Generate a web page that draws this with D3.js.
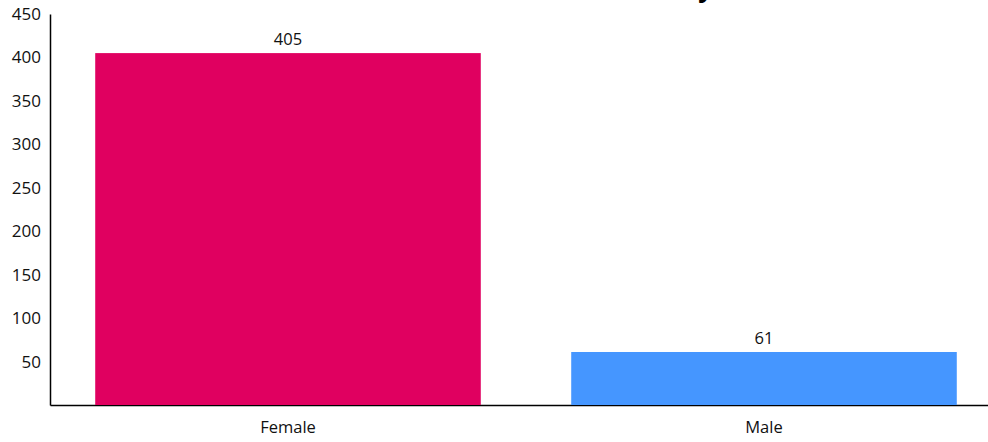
<!DOCTYPE html>
<html>
<head>
<meta charset="utf-8">
<script src="https://cdn.jsdelivr.net/npm/d3@7"></script>
<style>
  html, body { margin: 0; padding: 0; background: #fff; }
  svg { display: block; font-family: "Open Sans", "Noto Sans", sans-serif; }
</style>
</head>
<body>
<svg id="chart" width="988" height="442"></svg>
<script>
const categories = ["Female", "Male"];
const values = [405, 61];
const colors = ["#E00060", "#4596FF"];
const yTicks = [50, 100, 150, 200, 250, 300, 350, 400, 450];
const titleText = "Gender Distribution by";

const svg = d3.select("#chart");

const x = d3.scaleBand().domain(categories).range([50, 1002]).paddingInner(0.19).paddingOuter(0.095);
const y = d3.scaleLinear().domain([0, 450]).range([405, 14]);

// title (mostly clipped above the view, as in the reference)
svg.append("text")
  .attr("x", 713).attr("y", -3)
  .attr("text-anchor", "end")
  .attr("font-weight", "bold")
  .attr("font-size", 26)
  .text(titleText);

// y axis
const yAxis = svg.append("g").attr("transform", "translate(50,0)")
  .call(d3.axisLeft(y).tickValues(yTicks).tickSize(0).tickPadding(9));
yAxis.select(".domain").attr("stroke", "#000").attr("stroke-width", 1.5);
yAxis.selectAll("text").attr("font-size", 17).attr("fill", "#111")
  .attr("font-family", "'Open Sans', sans-serif");

// x axis
const xAxis = svg.append("g").attr("transform", "translate(0,405)")
  .call(d3.axisBottom(x).tickSize(0).tickPadding(16));
xAxis.select(".domain").attr("stroke", "#000").attr("stroke-width", 1.5);
xAxis.selectAll("text").attr("font-size", 16.5).attr("fill", "#111")
  .attr("font-family", "'Open Sans', sans-serif");

// bars
svg.append("g").selectAll("rect").data(categories).join("rect")
  .attr("x", d => x(d))
  .attr("width", x.bandwidth())
  .attr("y", (d, i) => y(values[i]))
  .attr("height", (d, i) => y(0) - y(values[i]))
  .attr("fill", (d, i) => colors[i]);

// value labels
svg.append("g").selectAll("text").data(categories).join("text")
  .attr("x", d => x(d) + x.bandwidth() / 2)
  .attr("y", (d, i) => y(values[i]) - 8)
  .attr("text-anchor", "middle")
  .attr("font-size", 16.5)
  .attr("fill", "#111")
  .text((d, i) => values[i]);
</script>
</body>
</html>
